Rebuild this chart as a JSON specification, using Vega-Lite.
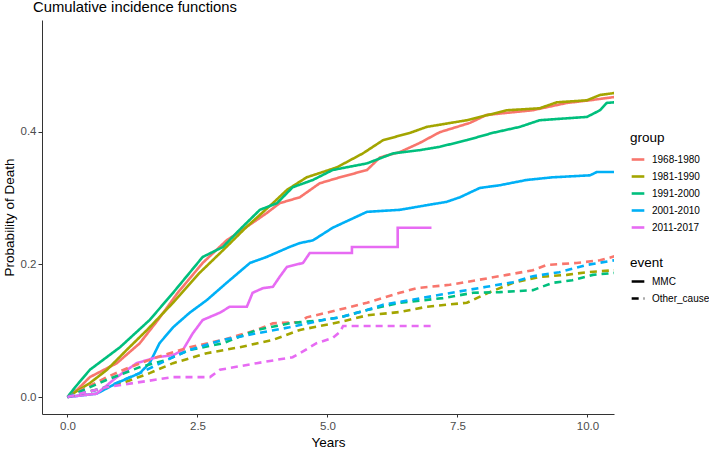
{
  "$schema": "https://vega.github.io/schema/vega-lite/v6.json",
  "autosize": "none",
  "width": 572,
  "height": 394,
  "padding": {"left": 42, "top": 20, "right": 95, "bottom": 36},
  "background": "white",
  "title": {
    "text": "Cumulative incidence functions",
    "anchor": "start",
    "frame": "group",
    "dx": -9,
    "offset": 5,
    "font": "Liberation Sans",
    "fontSize": 14.8,
    "fontWeight": "normal",
    "color": "#000000"
  },
  "config": {
    "view": {"stroke": null},
    "font": "Liberation Sans"
  },
  "data": {
    "values": [
      {"group":"1968-1980","event":"MMC","t":0,"p":0},
      {"group":"1968-1980","event":"MMC","t":0.2,"p":0.012},
      {"group":"1968-1980","event":"MMC","t":0.43,"p":0.030},
      {"group":"1968-1980","event":"MMC","t":0.95,"p":0.051},
      {"group":"1968-1980","event":"MMC","t":1.39,"p":0.081},
      {"group":"1968-1980","event":"MMC","t":1.74,"p":0.116},
      {"group":"1968-1980","event":"MMC","t":2.12,"p":0.157},
      {"group":"1968-1980","event":"MMC","t":2.60,"p":0.202},
      {"group":"1968-1980","event":"MMC","t":3.06,"p":0.236},
      {"group":"1968-1980","event":"MMC","t":3.44,"p":0.256},
      {"group":"1968-1980","event":"MMC","t":3.83,"p":0.277},
      {"group":"1968-1980","event":"MMC","t":4.08,"p":0.292},
      {"group":"1968-1980","event":"MMC","t":4.47,"p":0.301},
      {"group":"1968-1980","event":"MMC","t":4.85,"p":0.322},
      {"group":"1968-1980","event":"MMC","t":5.24,"p":0.331},
      {"group":"1968-1980","event":"MMC","t":5.76,"p":0.342},
      {"group":"1968-1980","event":"MMC","t":6.01,"p":0.361},
      {"group":"1968-1980","event":"MMC","t":6.39,"p":0.369},
      {"group":"1968-1980","event":"MMC","t":6.78,"p":0.383},
      {"group":"1968-1980","event":"MMC","t":7.16,"p":0.399},
      {"group":"1968-1980","event":"MMC","t":7.74,"p":0.413},
      {"group":"1968-1980","event":"MMC","t":8.06,"p":0.425},
      {"group":"1968-1980","event":"MMC","t":8.94,"p":0.432},
      {"group":"1968-1980","event":"MMC","t":9.60,"p":0.443},
      {"group":"1968-1980","event":"MMC","t":10.04,"p":0.447},
      {"group":"1968-1980","event":"MMC","t":10.52,"p":0.452},

      {"group":"1981-1990","event":"MMC","t":0,"p":0},
      {"group":"1981-1990","event":"MMC","t":0.43,"p":0.021},
      {"group":"1981-1990","event":"MMC","t":0.76,"p":0.041},
      {"group":"1981-1990","event":"MMC","t":1.14,"p":0.071},
      {"group":"1981-1990","event":"MMC","t":1.53,"p":0.101},
      {"group":"1981-1990","event":"MMC","t":2.03,"p":0.142},
      {"group":"1981-1990","event":"MMC","t":2.54,"p":0.187},
      {"group":"1981-1990","event":"MMC","t":2.99,"p":0.221},
      {"group":"1981-1990","event":"MMC","t":3.44,"p":0.256},
      {"group":"1981-1990","event":"MMC","t":3.95,"p":0.292},
      {"group":"1981-1990","event":"MMC","t":4.22,"p":0.312},
      {"group":"1981-1990","event":"MMC","t":4.60,"p":0.331},
      {"group":"1981-1990","event":"MMC","t":4.91,"p":0.339},
      {"group":"1981-1990","event":"MMC","t":5.18,"p":0.346},
      {"group":"1981-1990","event":"MMC","t":5.68,"p":0.367},
      {"group":"1981-1990","event":"MMC","t":6.07,"p":0.387},
      {"group":"1981-1990","event":"MMC","t":6.59,"p":0.398},
      {"group":"1981-1990","event":"MMC","t":6.91,"p":0.407},
      {"group":"1981-1990","event":"MMC","t":7.68,"p":0.417},
      {"group":"1981-1990","event":"MMC","t":8.45,"p":0.432},
      {"group":"1981-1990","event":"MMC","t":9.08,"p":0.435},
      {"group":"1981-1990","event":"MMC","t":9.41,"p":0.444},
      {"group":"1981-1990","event":"MMC","t":9.99,"p":0.447},
      {"group":"1981-1990","event":"MMC","t":10.24,"p":0.455},
      {"group":"1981-1990","event":"MMC","t":10.52,"p":0.458},

      {"group":"1991-2000","event":"MMC","t":0,"p":0},
      {"group":"1991-2000","event":"MMC","t":0.15,"p":0.015},
      {"group":"1991-2000","event":"MMC","t":0.43,"p":0.041},
      {"group":"1991-2000","event":"MMC","t":1.01,"p":0.075},
      {"group":"1991-2000","event":"MMC","t":1.58,"p":0.116},
      {"group":"1991-2000","event":"MMC","t":2.03,"p":0.157},
      {"group":"1991-2000","event":"MMC","t":2.60,"p":0.211},
      {"group":"1991-2000","event":"MMC","t":2.99,"p":0.226},
      {"group":"1991-2000","event":"MMC","t":3.31,"p":0.252},
      {"group":"1991-2000","event":"MMC","t":3.70,"p":0.282},
      {"group":"1991-2000","event":"MMC","t":4.03,"p":0.292},
      {"group":"1991-2000","event":"MMC","t":4.33,"p":0.316},
      {"group":"1991-2000","event":"MMC","t":4.72,"p":0.327},
      {"group":"1991-2000","event":"MMC","t":5.10,"p":0.342},
      {"group":"1991-2000","event":"MMC","t":5.76,"p":0.352},
      {"group":"1991-2000","event":"MMC","t":6.26,"p":0.367},
      {"group":"1991-2000","event":"MMC","t":6.78,"p":0.372},
      {"group":"1991-2000","event":"MMC","t":7.16,"p":0.377},
      {"group":"1991-2000","event":"MMC","t":7.68,"p":0.387},
      {"group":"1991-2000","event":"MMC","t":8.18,"p":0.398},
      {"group":"1991-2000","event":"MMC","t":8.70,"p":0.407},
      {"group":"1991-2000","event":"MMC","t":9.08,"p":0.417},
      {"group":"1991-2000","event":"MMC","t":9.99,"p":0.422},
      {"group":"1991-2000","event":"MMC","t":10.24,"p":0.432},
      {"group":"1991-2000","event":"MMC","t":10.37,"p":0.443},
      {"group":"1991-2000","event":"MMC","t":10.52,"p":0.444},

      {"group":"2001-2010","event":"MMC","t":0,"p":0},
      {"group":"2001-2010","event":"MMC","t":0.56,"p":0.005},
      {"group":"2001-2010","event":"MMC","t":0.95,"p":0.021},
      {"group":"2001-2010","event":"MMC","t":1.39,"p":0.036},
      {"group":"2001-2010","event":"MMC","t":1.58,"p":0.051},
      {"group":"2001-2010","event":"MMC","t":1.77,"p":0.081},
      {"group":"2001-2010","event":"MMC","t":2.03,"p":0.105},
      {"group":"2001-2010","event":"MMC","t":2.35,"p":0.127},
      {"group":"2001-2010","event":"MMC","t":2.68,"p":0.146},
      {"group":"2001-2010","event":"MMC","t":3.06,"p":0.172},
      {"group":"2001-2010","event":"MMC","t":3.51,"p":0.202},
      {"group":"2001-2010","event":"MMC","t":3.83,"p":0.211},
      {"group":"2001-2010","event":"MMC","t":4.27,"p":0.226},
      {"group":"2001-2010","event":"MMC","t":4.47,"p":0.232},
      {"group":"2001-2010","event":"MMC","t":4.72,"p":0.236},
      {"group":"2001-2010","event":"MMC","t":5.10,"p":0.255},
      {"group":"2001-2010","event":"MMC","t":5.43,"p":0.267},
      {"group":"2001-2010","event":"MMC","t":5.76,"p":0.279},
      {"group":"2001-2010","event":"MMC","t":6.39,"p":0.282},
      {"group":"2001-2010","event":"MMC","t":6.91,"p":0.289},
      {"group":"2001-2010","event":"MMC","t":7.29,"p":0.294},
      {"group":"2001-2010","event":"MMC","t":7.55,"p":0.301},
      {"group":"2001-2010","event":"MMC","t":7.93,"p":0.315},
      {"group":"2001-2010","event":"MMC","t":8.31,"p":0.319},
      {"group":"2001-2010","event":"MMC","t":8.83,"p":0.327},
      {"group":"2001-2010","event":"MMC","t":9.33,"p":0.331},
      {"group":"2001-2010","event":"MMC","t":10.05,"p":0.334},
      {"group":"2001-2010","event":"MMC","t":10.18,"p":0.339},
      {"group":"2001-2010","event":"MMC","t":10.52,"p":0.339},

      {"group":"2011-2017","event":"MMC","t":0,"p":0},
      {"group":"2011-2017","event":"MMC","t":0.56,"p":0.005},
      {"group":"2011-2017","event":"MMC","t":0.95,"p":0.030},
      {"group":"2011-2017","event":"MMC","t":1.33,"p":0.051},
      {"group":"2011-2017","event":"MMC","t":1.72,"p":0.060},
      {"group":"2011-2017","event":"MMC","t":2.03,"p":0.063},
      {"group":"2011-2017","event":"MMC","t":2.22,"p":0.071},
      {"group":"2011-2017","event":"MMC","t":2.41,"p":0.096},
      {"group":"2011-2017","event":"MMC","t":2.60,"p":0.116},
      {"group":"2011-2017","event":"MMC","t":2.93,"p":0.127},
      {"group":"2011-2017","event":"MMC","t":3.12,"p":0.136},
      {"group":"2011-2017","event":"MMC","t":3.45,"p":0.136},
      {"group":"2011-2017","event":"MMC","t":3.56,"p":0.157},
      {"group":"2011-2017","event":"MMC","t":3.76,"p":0.164},
      {"group":"2011-2017","event":"MMC","t":3.95,"p":0.166},
      {"group":"2011-2017","event":"MMC","t":4.08,"p":0.181},
      {"group":"2011-2017","event":"MMC","t":4.22,"p":0.196},
      {"group":"2011-2017","event":"MMC","t":4.53,"p":0.202},
      {"group":"2011-2017","event":"MMC","t":4.66,"p":0.217},
      {"group":"2011-2017","event":"MMC","t":5.47,"p":0.217},
      {"group":"2011-2017","event":"MMC","t":5.47,"p":0.226},
      {"group":"2011-2017","event":"MMC","t":6.35,"p":0.226},
      {"group":"2011-2017","event":"MMC","t":6.35,"p":0.255},
      {"group":"2011-2017","event":"MMC","t":7.00,"p":0.255},

      {"group":"1968-1980","event":"Other_cause","t":0,"p":0},
      {"group":"1968-1980","event":"Other_cause","t":0.76,"p":0.030},
      {"group":"1968-1980","event":"Other_cause","t":1.20,"p":0.045},
      {"group":"1968-1980","event":"Other_cause","t":1.72,"p":0.060},
      {"group":"1968-1980","event":"Other_cause","t":2.35,"p":0.075},
      {"group":"1968-1980","event":"Other_cause","t":2.99,"p":0.086},
      {"group":"1968-1980","event":"Other_cause","t":3.64,"p":0.101},
      {"group":"1968-1980","event":"Other_cause","t":3.95,"p":0.111},
      {"group":"1968-1980","event":"Other_cause","t":4.47,"p":0.113},
      {"group":"1968-1980","event":"Other_cause","t":4.60,"p":0.120},
      {"group":"1968-1980","event":"Other_cause","t":5.04,"p":0.128},
      {"group":"1968-1980","event":"Other_cause","t":5.76,"p":0.142},
      {"group":"1968-1980","event":"Other_cause","t":6.39,"p":0.157},
      {"group":"1968-1980","event":"Other_cause","t":6.72,"p":0.164},
      {"group":"1968-1980","event":"Other_cause","t":7.35,"p":0.169},
      {"group":"1968-1980","event":"Other_cause","t":7.87,"p":0.176},
      {"group":"1968-1980","event":"Other_cause","t":8.45,"p":0.184},
      {"group":"1968-1980","event":"Other_cause","t":8.95,"p":0.191},
      {"group":"1968-1980","event":"Other_cause","t":9.22,"p":0.199},
      {"group":"1968-1980","event":"Other_cause","t":9.79,"p":0.202},
      {"group":"1968-1980","event":"Other_cause","t":10.24,"p":0.206},
      {"group":"1968-1980","event":"Other_cause","t":10.52,"p":0.212},

      {"group":"1981-1990","event":"Other_cause","t":0,"p":0},
      {"group":"1981-1990","event":"Other_cause","t":1.06,"p":0.021},
      {"group":"1981-1990","event":"Other_cause","t":1.58,"p":0.036},
      {"group":"1981-1990","event":"Other_cause","t":2.03,"p":0.051},
      {"group":"1981-1990","event":"Other_cause","t":2.68,"p":0.066},
      {"group":"1981-1990","event":"Other_cause","t":3.31,"p":0.075},
      {"group":"1981-1990","event":"Other_cause","t":3.95,"p":0.086},
      {"group":"1981-1990","event":"Other_cause","t":4.47,"p":0.101},
      {"group":"1981-1990","event":"Other_cause","t":5.24,"p":0.113},
      {"group":"1981-1990","event":"Other_cause","t":5.76,"p":0.123},
      {"group":"1981-1990","event":"Other_cause","t":6.39,"p":0.128},
      {"group":"1981-1990","event":"Other_cause","t":6.91,"p":0.136},
      {"group":"1981-1990","event":"Other_cause","t":7.68,"p":0.142},
      {"group":"1981-1990","event":"Other_cause","t":8.12,"p":0.158},
      {"group":"1981-1990","event":"Other_cause","t":8.57,"p":0.172},
      {"group":"1981-1990","event":"Other_cause","t":9.08,"p":0.181},
      {"group":"1981-1990","event":"Other_cause","t":9.60,"p":0.184},
      {"group":"1981-1990","event":"Other_cause","t":9.99,"p":0.188},
      {"group":"1981-1990","event":"Other_cause","t":10.52,"p":0.191},

      {"group":"1991-2000","event":"Other_cause","t":0,"p":0},
      {"group":"1991-2000","event":"Other_cause","t":0.76,"p":0.026},
      {"group":"1991-2000","event":"Other_cause","t":1.39,"p":0.045},
      {"group":"1991-2000","event":"Other_cause","t":1.91,"p":0.056},
      {"group":"1991-2000","event":"Other_cause","t":2.35,"p":0.071},
      {"group":"1991-2000","event":"Other_cause","t":2.99,"p":0.081},
      {"group":"1991-2000","event":"Other_cause","t":3.64,"p":0.101},
      {"group":"1991-2000","event":"Other_cause","t":4.27,"p":0.111},
      {"group":"1991-2000","event":"Other_cause","t":4.91,"p":0.116},
      {"group":"1991-2000","event":"Other_cause","t":5.24,"p":0.120},
      {"group":"1991-2000","event":"Other_cause","t":5.76,"p":0.131},
      {"group":"1991-2000","event":"Other_cause","t":6.39,"p":0.142},
      {"group":"1991-2000","event":"Other_cause","t":7.22,"p":0.149},
      {"group":"1991-2000","event":"Other_cause","t":7.80,"p":0.157},
      {"group":"1991-2000","event":"Other_cause","t":8.31,"p":0.158},
      {"group":"1991-2000","event":"Other_cause","t":8.95,"p":0.161},
      {"group":"1991-2000","event":"Other_cause","t":9.33,"p":0.172},
      {"group":"1991-2000","event":"Other_cause","t":9.71,"p":0.176},
      {"group":"1991-2000","event":"Other_cause","t":10.10,"p":0.184},
      {"group":"1991-2000","event":"Other_cause","t":10.52,"p":0.187},

      {"group":"2001-2010","event":"Other_cause","t":0,"p":0},
      {"group":"2001-2010","event":"Other_cause","t":0.76,"p":0.015},
      {"group":"2001-2010","event":"Other_cause","t":1.39,"p":0.036},
      {"group":"2001-2010","event":"Other_cause","t":2.03,"p":0.060},
      {"group":"2001-2010","event":"Other_cause","t":2.35,"p":0.071},
      {"group":"2001-2010","event":"Other_cause","t":2.99,"p":0.086},
      {"group":"2001-2010","event":"Other_cause","t":3.64,"p":0.096},
      {"group":"2001-2010","event":"Other_cause","t":4.27,"p":0.105},
      {"group":"2001-2010","event":"Other_cause","t":4.91,"p":0.116},
      {"group":"2001-2010","event":"Other_cause","t":5.24,"p":0.120},
      {"group":"2001-2010","event":"Other_cause","t":5.76,"p":0.131},
      {"group":"2001-2010","event":"Other_cause","t":6.07,"p":0.139},
      {"group":"2001-2010","event":"Other_cause","t":6.59,"p":0.146},
      {"group":"2001-2010","event":"Other_cause","t":7.16,"p":0.154},
      {"group":"2001-2010","event":"Other_cause","t":7.68,"p":0.161},
      {"group":"2001-2010","event":"Other_cause","t":8.06,"p":0.166},
      {"group":"2001-2010","event":"Other_cause","t":8.57,"p":0.173},
      {"group":"2001-2010","event":"Other_cause","t":8.95,"p":0.182},
      {"group":"2001-2010","event":"Other_cause","t":9.46,"p":0.188},
      {"group":"2001-2010","event":"Other_cause","t":9.99,"p":0.199},
      {"group":"2001-2010","event":"Other_cause","t":10.52,"p":0.206},

      {"group":"2011-2017","event":"Other_cause","t":0,"p":0},
      {"group":"2011-2017","event":"Other_cause","t":0.76,"p":0.015},
      {"group":"2011-2017","event":"Other_cause","t":2.03,"p":0.030},
      {"group":"2011-2017","event":"Other_cause","t":2.74,"p":0.030},
      {"group":"2011-2017","event":"Other_cause","t":2.93,"p":0.041},
      {"group":"2011-2017","event":"Other_cause","t":3.64,"p":0.051},
      {"group":"2011-2017","event":"Other_cause","t":4.33,"p":0.060},
      {"group":"2011-2017","event":"Other_cause","t":4.47,"p":0.066},
      {"group":"2011-2017","event":"Other_cause","t":4.79,"p":0.081},
      {"group":"2011-2017","event":"Other_cause","t":5.10,"p":0.089},
      {"group":"2011-2017","event":"Other_cause","t":5.24,"p":0.098},
      {"group":"2011-2017","event":"Other_cause","t":5.30,"p":0.107},
      {"group":"2011-2017","event":"Other_cause","t":7.00,"p":0.107}
    ]
  },
  "mark": {"type": "line", "interpolate": "linear", "strokeWidth": 2.6, "clip": true},
  "encoding": {
    "x": {
      "field": "t",
      "type": "quantitative",
      "title": "Years",
      "scale": {"domain": [-0.49, 10.51], "nice": false, "zero": false},
      "axis": {
        "values": [0, 2.5, 5, 7.5, 10],
        "format": ".1f",
        "grid": false,
        "domainColor": "#333333",
        "domainWidth": 1,
        "tickColor": "#333333",
        "tickSize": 3,
        "labelPadding": 3,
        "labelColor": "#4D4D4D",
        "labelFontSize": 11.5,
        "labelFont": "Liberation Sans",
        "titleFont": "Liberation Sans",
        "titleFontSize": 13.5,
        "titleFontWeight": "normal",
        "titleColor": "#000000",
        "titlePadding": 4
      }
    },
    "y": {
      "field": "p",
      "type": "quantitative",
      "title": "Probability of Death",
      "scale": {"domain": [-0.0256, 0.568], "nice": false, "zero": false},
      "axis": {
        "values": [0, 0.2, 0.4],
        "format": ".1f",
        "grid": false,
        "domainColor": "#333333",
        "domainWidth": 1,
        "tickColor": "#333333",
        "tickSize": 4,
        "labelPadding": 2,
        "labelColor": "#4D4D4D",
        "labelFontSize": 11.5,
        "labelFont": "Liberation Sans",
        "titleFont": "Liberation Sans",
        "titleFontSize": 13.5,
        "titleFontWeight": "normal",
        "titleColor": "#000000",
        "titlePadding": 4
      }
    },
    "color": {
      "field": "group",
      "type": "nominal",
      "title": "group",
      "scale": {
        "domain": ["1968-1980", "1981-1990", "1991-2000", "2001-2010", "2011-2017"],
        "range": ["#F8766D", "#A3A500", "#00BF7D", "#00B0F6", "#E76BF3"]
      },
      "legend": {
        "orient": "none",
        "legendX": 588,
        "legendY": 111,
        "symbolType": "stroke",
        "symbolSize": 160,
        "symbolStrokeWidth": 2.6,
        "rowPadding": 3,
        "titlePadding": 7,
        "titleFont": "Liberation Sans",
        "titleFontSize": 13.5,
        "titleFontWeight": "normal",
        "titleColor": "#000000",
        "labelFont": "Liberation Sans",
        "labelFontSize": 10,
        "labelColor": "#000000",
        "labelOffset": 6
      }
    },
    "strokeDash": {
      "field": "event",
      "type": "nominal",
      "title": "event",
      "scale": {
        "domain": ["MMC", "Other_cause"],
        "range": [[1, 0], [7, 5]]
      },
      "legend": {
        "orient": "none",
        "legendX": 588,
        "legendY": 236,
        "symbolType": "stroke",
        "symbolSize": 160,
        "symbolStrokeWidth": 2.6,
        "symbolStrokeColor": "#000000",
        "rowPadding": 3,
        "titlePadding": 4,
        "titleFont": "Liberation Sans",
        "titleFontSize": 13.5,
        "titleFontWeight": "normal",
        "titleColor": "#000000",
        "labelFont": "Liberation Sans",
        "labelFontSize": 10,
        "labelColor": "#000000",
        "labelOffset": 6
      }
    }
  }
}
